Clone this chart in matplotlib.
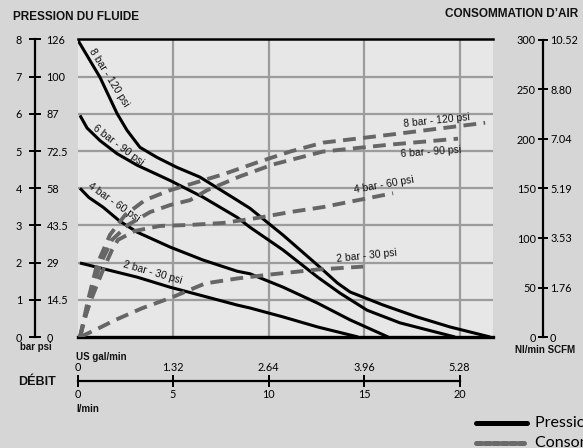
import numpy as np
import matplotlib.pyplot as plt
from matplotlib.lines import Line2D

# debit en l/min, pression en bar (courbes pleines)
flow_p8 = [0, 1.18, 2.07, 2.59, 3.27, 4.16, 5.21, 6.41, 8.35, 9.03, 10.76, 12.57, 13.61, 14.27, 16.0, 17.77, 19.5, 21.6]
pres_p8 = [8.0, 6.98, 6.01, 5.56, 5.10, 4.83, 4.56, 4.30, 3.68, 3.46, 2.74, 1.93, 1.45, 1.21, 0.86, 0.54, 0.27, 0]
flow_p6 = [0.13, 0.5, 1.18, 2.07, 3.12, 4.84, 6.57, 8.35, 9.03, 10.76, 12.57, 13.74, 15.16, 16.88, 19.76]
pres_p6 = [5.96, 5.62, 5.28, 4.93, 4.62, 4.21, 3.76, 3.22, 2.95, 2.34, 1.61, 1.18, 0.72, 0.38, 0]
flow_p4 = [0.13, 0.6, 1.34, 2.2, 3.12, 4.84, 6.57, 8.35, 9.03, 10.76, 12.57, 14.27, 16.26]
pres_p4 = [4.0, 3.75, 3.49, 3.12, 2.82, 2.42, 2.07, 1.77, 1.70, 1.34, 0.91, 0.46, 0]
flow_p2 = [0.13, 3.12, 4.84, 8.35, 9.03, 10.76, 12.57, 14.69]
pres_p2 = [1.99, 1.61, 1.34, 0.86, 0.78, 0.54, 0.27, 0]

# consommation d'air en Nl/min (courbes pointillees)
flow_a8 = [0.13, 0.55, 1.02, 1.70, 2.49, 3.53, 4.84, 5.89, 7.62, 9.40, 11.13, 12.85, 16.36, 21.34]
air_a8 = [0, 37, 73, 103, 123, 138, 148, 154, 164, 176, 187, 196, 204, 216]
flow_a6 = [0.13, 0.65, 1.18, 1.81, 2.64, 3.80, 4.84, 5.89, 6.78, 8.51, 10.24, 12.85, 16.36, 19.92]
air_a6 = [0, 37, 73, 98, 113, 126, 133, 138, 148, 162, 174, 187, 194, 200]
flow_a4 = [0.13, 0.39, 0.76, 1.28, 1.81, 2.12, 3.01, 4.32, 5.89, 7.62, 9.40, 11.13, 12.85, 16.52]
air_a4 = [0, 20, 40, 65, 88, 98, 107, 112, 113, 115, 120, 126, 131, 145]
flow_a2 = [0.13, 0.92, 1.96, 3.38, 4.95, 6.68, 8.35, 10.08, 12.54, 14.95]
air_a2 = [0, 7, 17, 29, 40, 54, 59, 63, 68, 71]

bar_ticks = [0, 1, 2, 3, 4, 5, 6, 7, 8]
psi_labels = ['0', '14.5', '29', '43.5', '58', '72.5', '87', '100', '126']
nl_ticks = [0, 50, 100, 150, 200, 250, 300]
scfm_labels = ['0', '1.76', '3.53', '5.19', '7.04', '8.80', '10.52']
lmin_ticks = [0, 5, 10, 15, 20]
gal_labels = ['0', '1.32', '2.64', '3.96', '5.28']

W, H = 583, 448
def box(x0, y0, x1, y1):
    # pixels depuis le coin haut gauche -> fraction de figure
    return [x0 / W, 1 - y1 / H, (x1 - x0) / W, (y1 - y0) / H]

NUM = 'Lato'
TXT = 'Liberation Sans'
bg = '#d6d6d6'
fs_num = 7.8

fig = plt.figure(figsize=(W / 100, H / 100), dpi=100)
fig.patch.set_facecolor(bg)

# zone du graphique
ax = fig.add_axes(box(77.5, 39.5, 493, 337))
ax.set_facecolor('#e7e7e8')
ax.set_xlim(0, 21.75)
ax.set_ylim(0, 8)
ax.set_xticks([5, 10, 15, 20])
ax.set_yticks([1, 2, 3, 4, 5, 6, 7])
ax.tick_params(length=0, labelbottom=False, labelleft=False)
ax.grid(color='#9c9c9c', lw=1.6)
ax.set_axisbelow(True)
for s in ['left', 'right']:
    ax.spines[s].set_visible(False)
ax.spines['top'].set_linewidth(1.8)
ax.spines['bottom'].set_linewidth(2.4)

for fx, py in [(flow_p8, pres_p8), (flow_p6, pres_p6), (flow_p4, pres_p4), (flow_p2, pres_p2)]:
    ax.plot(fx, py, color='black', lw=2.2, solid_joinstyle='round', solid_capstyle='butt')

ax2 = ax.twinx()
ax2.set_ylim(0, 300)
ax2.axis('off')
for fx, ay in [(flow_a8, air_a8), (flow_a6, air_a6), (flow_a4, air_a4), (flow_a2, air_a2)]:
    ax2.plot(fx, ay, color='#666666', lw=2.8, linestyle=(0, (3.3, 1.9)))

lab = dict(fontsize=7.5, family=TXT, ha='center', va='center', color='#111111')
ax.text(1.67, 6.98, '8 bar - 120 psi', rotation=-58, **lab)
ax.text(2.14, 5.15, '6 bar - 90 psi', rotation=-37, **lab)
ax.text(1.88, 3.62, '4 bar - 60 psi', rotation=-35, **lab)
ax.text(3.91, 1.72, '2 bar - 30 psi', rotation=-16, **lab)
ax.text(18.8, 5.83, '8 bar - 120 psi', rotation=6, **lab)
ax.text(18.5, 4.97, '6 bar - 90 psi', rotation=4, **lab)
ax.text(16.05, 4.08, '4 bar - 60 psi', rotation=10, **lab)
ax.text(15.15, 2.17, '2 bar - 30 psi', rotation=6, **lab)

# axe gauche : bar / psi
axl = fig.add_axes(box(34.5, 39.5, 34.6, 337))
axl.set_ylim(0, 8)
axl.set_xticks([])
axl.patch.set_visible(False)
for s in ['top', 'bottom', 'right']:
    axl.spines[s].set_visible(False)
axl.spines['left'].set_linewidth(1.6)
axl.set_yticks(bar_ticks)
axl.tick_params(axis='y', direction='inout', length=8, width=1.4, pad=5,
                labelsize=fs_num, labelfontfamily=NUM)
axr = axl.twinx()
axr.set_ylim(0, 8)
for s in axr.spines.values():
    s.set_visible(False)
axr.set_yticks(bar_ticks)
axr.set_yticklabels(psi_labels)
axr.tick_params(axis='y', length=0, pad=8.5, labelsize=fs_num, labelfontfamily=NUM)

# axe droit : Nl/min / SCFM
axR = fig.add_axes(box(543, 40, 543.1, 337))
axR.set_ylim(0, 300)
axR.set_xticks([])
axR.patch.set_visible(False)
for s in ['top', 'bottom', 'right']:
    axR.spines[s].set_visible(False)
axR.spines['left'].set_linewidth(1.6)
axR.set_yticks(nl_ticks)
axR.tick_params(axis='y', direction='inout', length=6.5, width=1.4, pad=1.8,
                labelsize=fs_num, labelfontfamily=NUM)
axR2 = axR.twinx()
axR2.set_ylim(0, 300)
for s in axR2.spines.values():
    s.set_visible(False)
axR2.set_yticks(nl_ticks)
axR2.set_yticklabels(scfm_labels)
axR2.tick_params(axis='y', length=0, pad=5, labelsize=fs_num, labelfontfamily=NUM)

# axe du debit
axB = fig.add_axes(box(77.5, 381, 459.5, 381.1))
axB.set_xlim(0, 20)
axB.set_yticks([])
axB.patch.set_visible(False)
for s in ['top', 'left', 'right']:
    axB.spines[s].set_visible(False)
axB.spines['bottom'].set_linewidth(1.6)
axB.set_xticks(lmin_ticks)
axB.tick_params(axis='x', direction='inout', length=8.6, width=1.4, pad=1.5,
                labelsize=fs_num, labelfontfamily=NUM)
axT = axB.twiny()
axT.set_xlim(0, 20)
for s in axT.spines.values():
    s.set_visible(False)
axT.set_xticks(lmin_ticks)
axT.set_xticklabels(gal_labels)
axT.tick_params(axis='x', length=0, pad=5.5, labelsize=fs_num, labelfontfamily=NUM)

# titres
bold = dict(family=TXT, fontweight='bold', color='#111111')
fig.text(13 / W, 1 - 17 / H, 'PRESSION DU FLUIDE', fontsize=8.5, ha='left', va='center', **bold)
fig.text(578 / W, 1 - 14 / H, 'CONSOMMATION D\u2019AIR', fontsize=8.5, ha='right', va='center', **bold)
fig.text(35.5 / W, 1 - 347 / H, 'bar psi', fontsize=7, ha='center', va='center', **bold)
fig.text(545 / W, 1 - 350 / H, 'Nl/min SCFM', fontsize=7, ha='center', va='center', **bold)
fig.text(76 / W, 1 - 357 / H, 'US gal/min', fontsize=7, ha='left', va='center', **bold)
fig.text(76 / W, 1 - 409 / H, 'l/min', fontsize=7, ha='left', va='center', **bold)
fig.text(18 / W, 1 - 382 / H, 'DÉBIT', fontsize=9, ha='left', va='center', **bold)

# legende (coupee par le bord, comme sur l'original)
fig.add_artist(Line2D([476 / W, 527 / W], [1 - 423 / H, 1 - 423 / H], color='black', lw=3.6,
                      solid_capstyle='round'))
fig.add_artist(Line2D([476 / W, 527 / W], [1 - 443 / H, 1 - 443 / H], color='#6a6a6a', lw=3.6,
                      linestyle=(0, (1.1, 0.6)), dash_capstyle='round'))
fig.text(535 / W, 1 - 423 / H, 'Pression du fluide', fontsize=11.5, family=NUM, ha='left', va='center')
fig.text(535 / W, 1 - 443 / H, 'Consommation d\u2019air', fontsize=11.5, family=NUM, ha='left', va='center')

fig.savefig('out.png', dpi=100, facecolor=bg)
